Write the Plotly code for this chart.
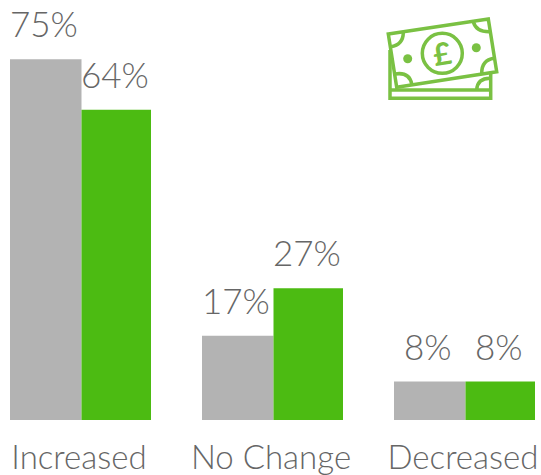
import plotly.graph_objects as go

categories = ["Increased", "No Change", "Decreased"]
series_a = [75, 17.5, 8]
series_b = [64.5, 27.4, 8]
labels_a = ["75%", "17%", "8%"]
labels_b = ["64%", "27%", "8%"]

GRAY = "#B3B3B3"
GREEN = "#4CBB12"
ICON = "#7AC143"
TEXT = "#666666"
FONT = "Lato Light, Lato, sans-serif"
W, H, PLOT_H, PERIOD, C0 = 541, 475, 420, 192.0, 79.0
u = 1 / PERIOD

fig = go.Figure()
fig.add_bar(x=categories, y=series_a, marker=dict(color=GRAY, line_width=0),
            width=71.5 * u, offset=-69 * u)
fig.add_bar(x=categories, y=series_b, marker=dict(color=GREEN, line_width=0),
            width=69.5 * u, offset=2.5 * u)

annotations = []
for i, c in enumerate(categories):
    for vals, labs, dx in ((series_a, labels_a, -35), (series_b, labels_b, 36)):
        annotations.append(dict(x=c, y=vals[i], text=labs[i], showarrow=False, xanchor="center",
                                yanchor="bottom", xshift=dx, yshift=13,
                                font=dict(family=FONT, size=35, color=TEXT, weight=300)))

def px(x, y):
    return f"{x / W:.5f},{1 - y / PLOT_H:.5f}"

def path(d):
    out = []
    for cmd, pts in d:
        out.append(cmd + " ".join(px(*p) for p in pts))
    return " ".join(out)

def stroke(d, closed=False, width=3.5):
    s = path(d) + (" Z" if closed else "")
    return dict(type="path", xref="paper", yref="paper", path=s,
                line=dict(color=ICON, width=width), layer="above")

def circle(cx, cy, r, filled=False):
    return dict(type="circle", xref="paper", yref="paper",
                x0=(cx - r) / W, x1=(cx + r) / W, y0=1 - (cy + r) / PLOT_H, y1=1 - (cy - r) / PLOT_H,
                line=dict(color=ICON, width=0 if filled else 3.5),
                fillcolor=ICON if filled else "rgba(0,0,0,0)")

shapes = [
    stroke([("M", [(388.3, 34)]), ("L", [(488.3, 19)]), ("L", [(496.7, 71.7)]), ("L", [(396.7, 87.3)])], closed=True),
    stroke([("M", [(403.3, 32.3)]), ("Q", [(403.3, 45), (390.7, 46.7)])]),
    stroke([("M", [(473.3, 21.7)]), ("Q", [(476, 31.7), (489, 31.7)])]),
    stroke([("M", [(494, 58.3)]), ("Q", [(481.7, 60), (481.7, 73.3)])]),
    stroke([("M", [(395, 74)]), ("Q", [(409.3, 71.7), (411.7, 84)])]),
    stroke([("M", [(390, 50)]), ("L", [(390, 98.3)]), ("L", [(490.7, 98.3)]), ("L", [(490.7, 74)])]),
    stroke([("M", [(390, 90)]), ("L", [(490.7, 90)])]),
    stroke([("M", [(476.7, 90)]), ("Q", [(477.3, 78.3), (490, 78.3)])]),
    circle(442.3, 53.3, 20),
    circle(407.7, 58.7, 4.5, True),
    circle(476.3, 47.7, 4.5, True),
]
annotations.append(dict(xref="paper", yref="paper", x=442.3 / W, y=1 - 53.3 / PLOT_H, text="£",
                        showarrow=False, textangle=-9, xanchor="center", yanchor="middle",
                        font=dict(family="Lato, sans-serif", size=31, color=ICON, weight=700)))

fig.update_layout(
    width=W, height=H, margin=dict(l=0, r=0, t=0, b=H - PLOT_H),
    paper_bgcolor="white", plot_bgcolor="white", showlegend=False,
    barmode="overlay", annotations=annotations, shapes=shapes,
    xaxis=dict(range=[-C0 * u, (W - C0) * u], showgrid=False, zeroline=False, showline=False,
               ticks="", ticklen=0, ticklabelstandoff=15,
               tickfont=dict(family=FONT, size=33, color=TEXT, weight=300)),
    yaxis=dict(range=[0, PLOT_H / 4.81], visible=False, fixedrange=True),
)
fig.write_html("out.html", config=dict(displayModeBar=False),
               post_script="document.body.style.margin='0';document.body.style.overflow='hidden';")
